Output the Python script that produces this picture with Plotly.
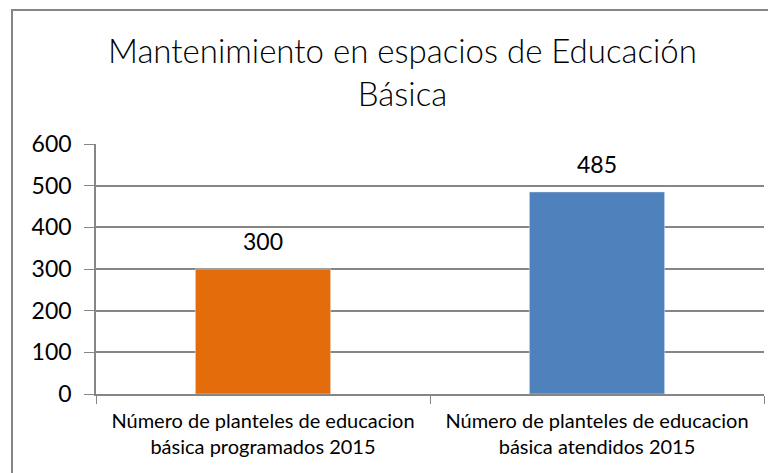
import plotly.graph_objects as go

categories = ["Número de planteles de educacion<br>básica programados 2015",
              "Número de planteles de educacion<br>básica atendidos 2015"]
values = [300, 485]
colors = ["#E46C0A", "#4F81BD"]
title_text = "Mantenimiento en espacios de Educación<br>Básica"
y_ticks = [0, 100, 200, 300, 400, 500, 600]

# the page body has an 8px margin; figure coordinates are screen - 8
OFF = 8
W, H = 768, 465
L, R, T, B = 96 - OFF, 12, 144 - OFF, 79
pw, ph = W - L - R, H - T - B

def px_x(x):
    return (x - OFF - L) / pw

def px_y(y):
    return (H - B - (y - OFF)) / ph

fig = go.Figure(go.Bar(
    x=categories, y=values, marker_color=colors, width=0.405,
))

for c, v in zip(categories, values):
    fig.add_annotation(x=c, y=v, xref="x", yref="y", text=str(v), showarrow=False,
                       yanchor="bottom", yshift=12,
                       font=dict(family="Lato", size=23, color="#000000"))

fig.add_annotation(xref="paper", yref="paper", x=px_x(402), y=px_y(72),
                   xanchor="center", yanchor="middle", showarrow=False,
                   text=title_text, align="center",
                   font=dict(family="Lato", size=33, color="#000000", weight=300))

fig.update_layout(
    width=W, height=H,
    margin=dict(l=L, r=R, t=T, b=B),
    paper_bgcolor="white", plot_bgcolor="white",
    showlegend=False,
    xaxis=dict(showline=True, linecolor="#868686", linewidth=1.5,
               ticks="outside", tickson="boundaries", ticklen=8, tickcolor="#868686",
               ticklabelstandoff=8,
               tickfont=dict(family="Lato", size=20, color="#000000"),
               showgrid=False),
    yaxis=dict(range=[0, 600], tickvals=y_ticks, showline=True, linecolor="#868686",
               linewidth=1.5, ticks="outside", ticklen=10, tickcolor="#868686",
               ticklabelstandoff=8,
               gridcolor="#868686", gridwidth=1.5,
               tickfont=dict(family="Lato", size=23, color="#000000"),
               zeroline=False),
)

fig.add_shape(type="rect", xref="paper", yref="paper",
              x0=px_x(12), x1=px_x(790), y0=px_y(490), y1=px_y(10),
              line=dict(color="#868686", width=2), fillcolor="rgba(0,0,0,0)", layer="below")

fig.write_html("out.html")
